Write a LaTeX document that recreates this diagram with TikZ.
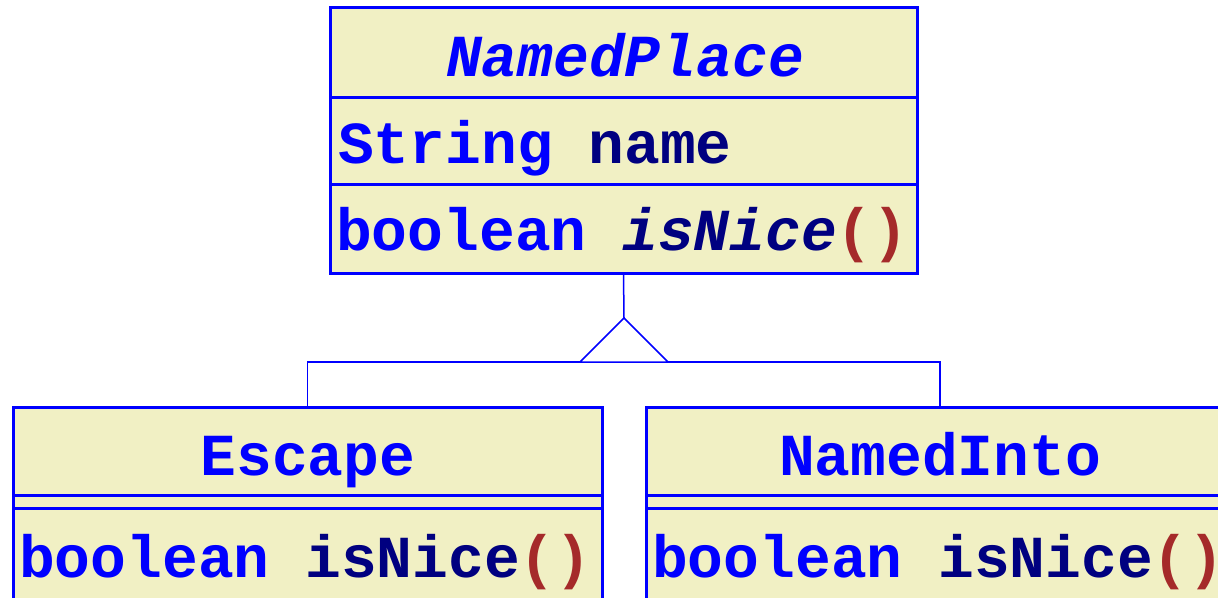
\documentclass[tikz,border=0pt]{standalone}
\usepackage{fontspec}
\setmonofont{Liberation Mono}
\usetikzlibrary{positioning}
\definecolor{umlfill}{RGB}{241,240,196}
\definecolor{umlblue}{RGB}{0,0,255}
\definecolor{umlnavy}{RGB}{0,0,128}
\definecolor{umlparen}{RGB}{165,42,42}

\begin{document}
\begin{tikzpicture}[x=1pt, y=-1pt,
		compart/.style={rectangle, draw=umlblue, fill=umlfill, line width=3pt, inner sep=0pt, outer sep=0pt, anchor=north west},
		umltext/.style={anchor=base west, inner sep=0pt, text=umlblue, font=\ttfamily\bfseries\fontsize{59.6}{60}\selectfont},
		link/.style={draw=umlblue, line width=1.5pt}]
		\useasboundingbox (0,0) rectangle (1218,597);
		\clip (0,0) rectangle (1218,597);
		% superclass
		\node[compart, minimum width=587, minimum height=90] (placeTitle) at (330,7) {};
		\node[compart, minimum width=587, minimum height=87, below=0pt of placeTitle] (placeAttr) {};
		\node[compart, minimum width=587, minimum height=89, below=0pt of placeAttr] (placeMeth) {};
		\node[umltext, anchor=base] (placeName) at (625,76) {\itshape NamedPlace};
		\node[umltext] (placeField) at (338,163) {String \textcolor{umlnavy}{name}};
		\node[umltext] (placeOp) at (336,250) {boolean \textcolor{umlnavy}{\itshape isNice}\textcolor{umlparen}{()}};
		% subclasses
		\node[compart, minimum width=589, minimum height=88] (escTitle) at (13,407) {};
		\node[compart, minimum width=589, minimum height=13, below=0pt of escTitle] (escAttr) {};
		\node[compart, minimum width=589, minimum height=100, below=0pt of escAttr] (escMeth) {};
		\node[umltext, anchor=base] (escName) at (308,475) {Escape};
		\node[umltext] (escOp) at (19,577) {boolean \textcolor{umlnavy}{isNice}\textcolor{umlparen}{()}};
		\node[compart, minimum width=588, minimum height=88] (intoTitle) at (646,407) {};
		\node[compart, minimum width=588, minimum height=13, below=0pt of intoTitle] (intoAttr) {};
		\node[compart, minimum width=588, minimum height=100, below=0pt of intoAttr] (intoMeth) {};
		\node[umltext, anchor=base] (intoName) at (940,475) {NamedInto};
		\node[umltext] (intoOp) at (652,577) {boolean \textcolor{umlnavy}{isNice}\textcolor{umlparen}{()}};
		% generalisation
		\coordinate (apex) at (624,318);
		\coordinate (triL) at (580,362);
		\coordinate (triR) at (668,362);
		\draw[link] (placeMeth.south) -- (apex);
		\draw[link] (apex) -- (triL) -- (triR) -- cycle;
		\draw[link] (escTitle.north) |- (triL);
		\draw[link] (intoTitle.north) |- (triR);
	\end{tikzpicture}
\end{document}
